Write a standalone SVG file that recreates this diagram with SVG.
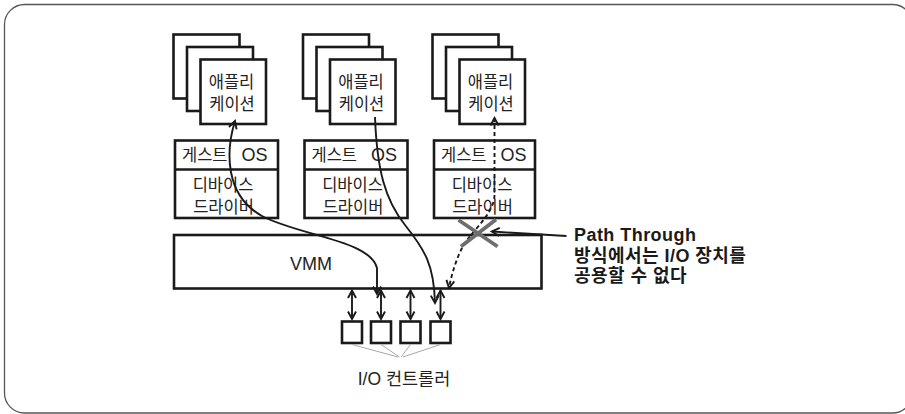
<svg xmlns="http://www.w3.org/2000/svg" width="905" height="414" viewBox="0 0 905 414">
  <defs>
    <style>
      .box { fill: #fff; stroke: #1a1a1a; stroke-width: 2.6; }
      .rule { stroke: #1a1a1a; stroke-width: 2.6; }
      .lbl { font-family: "Liberation Sans", "Noto Sans CJK KR", sans-serif; font-size: 16.5px; fill: #222; text-anchor: middle; }
      .os { font-family: "Liberation Sans", "Noto Sans CJK KR", sans-serif; font-size: 16.5px; fill: #222; }
      .wire { fill: none; stroke: #1a1a1a; stroke-width: 1.9; }
      .dash { stroke-dasharray: 4 3; }
      .tap { fill: none; stroke: #a8a8a8; stroke-width: 1; }
      .note { font-family: "Liberation Sans", "Noto Sans CJK KR", sans-serif; font-size: 18px; font-weight: bold; fill: #1a1a1a; letter-spacing: 0.45px; }
    </style>
    <marker id="head" viewBox="-9 -6 11 12" refX="0" refY="0" markerWidth="11" markerHeight="12" markerUnits="userSpaceOnUse" orient="auto-start-reverse">
      <path d="M-7.5,-4 L0,0 L-7.5,4" fill="none" stroke="#1a1a1a" stroke-width="1.9" stroke-linejoin="miter"/>
    </marker>
    <g id="stack">
      <rect class="box" x="0" y="0" width="66" height="64"/>
      <rect class="box" x="13.5" y="12.5" width="66" height="64"/>
      <rect class="box" x="27" y="25" width="65.5" height="64.5"/>
    </g>
  </defs>

  <!-- outer frame -->
  <rect x="4.5" y="4.5" width="908" height="408.5" rx="20" fill="#fff" stroke="#555" stroke-width="1.3"/>

  <!-- applications -->
  <g id="app1">
    <use href="#stack" x="173.5" y="34.5"/>
    <text class="lbl" x="231.5" y="87.5">애플리</text>
    <text class="lbl" x="232" y="110">케이션</text>
  </g>
  <g id="app2">
    <use href="#stack" x="303" y="34.5"/>
    <text class="lbl" x="361" y="87.5">애플리</text>
    <text class="lbl" x="361.5" y="110">케이션</text>
  </g>
  <g id="app3">
    <use href="#stack" x="432.5" y="34.5"/>
    <text class="lbl" x="490.5" y="87.5">애플리</text>
    <text class="lbl" x="491" y="110">케이션</text>
  </g>

  <!-- guest OS with device driver -->
  <g id="guest1">
    <rect class="box" x="175" y="140.5" width="103" height="77.5"/>
    <line class="rule" x1="175" y1="169.5" x2="278" y2="169.5"/>
    <text class="os" x="182" y="160.5">게스트<tspan dx="14" font-size="18">OS</tspan></text>
    <text class="lbl" x="223" y="190.5">디바이스</text>
    <text class="lbl" x="223.5" y="212.5">드라이버</text>
  </g>
  <g id="guest2">
    <rect class="box" x="304.5" y="140.5" width="103" height="77.5"/>
    <line class="rule" x1="304.5" y1="169.5" x2="407.5" y2="169.5"/>
    <text class="os" x="311.5" y="160.5">게스트<tspan dx="14" font-size="18">OS</tspan></text>
    <text class="lbl" x="352.5" y="190.5">디바이스</text>
    <text class="lbl" x="353" y="212.5">드라이버</text>
  </g>
  <g id="guest3">
    <rect class="box" x="434" y="140.5" width="101" height="77.5"/>
    <line class="rule" x1="434" y1="169.5" x2="535" y2="169.5"/>
    <text class="os" x="441" y="160.5">게스트<tspan dx="14" font-size="18">OS</tspan></text>
    <text class="lbl" x="482" y="190.5">디바이스</text>
    <text class="lbl" x="482.5" y="212.5">드라이버</text>
  </g>

  <!-- hypervisor -->
  <g id="vmm">
    <rect class="box" x="174" y="235" width="367.5" height="53.5"/>
    <text x="311" y="270" font-family="Liberation Sans, sans-serif" font-size="18" fill="#222" text-anchor="middle">VMM</text>
  </g>

  <!-- I/O controllers -->
  <g id="io">
    <rect class="box" x="342" y="321.5" width="20" height="21.5"/>
    <rect class="box" x="371" y="321.5" width="20" height="21.5"/>
    <rect class="box" x="400.5" y="321.5" width="20" height="21.5"/>
    <rect class="box" x="430.5" y="321.5" width="20" height="21.5"/>
    <path class="tap" d="M352,344.5 L398,357 M381,344.5 L399.5,357 M410.5,344.5 L401,357 M440.5,344.5 L403,357"/>
    <text x="404" y="385" font-family="Liberation Sans, Noto Sans CJK KR, sans-serif" font-size="17.5" fill="#222" text-anchor="middle">I/O 컨트롤러</text>
  </g>

  <!-- connectors -->
  <g id="connectors">
    <line class="wire" x1="352" y1="290.5" x2="352" y2="319" marker-start="url(#head)" marker-end="url(#head)"/>
    <line class="wire" x1="381" y1="290.5" x2="381" y2="319" marker-start="url(#head)" marker-end="url(#head)"/>
    <line class="wire" x1="410.5" y1="290.5" x2="410.5" y2="319" marker-start="url(#head)" marker-end="url(#head)"/>
    <line class="wire" x1="440.5" y1="290.5" x2="440.5" y2="319" marker-start="url(#head)" marker-end="url(#head)"/>

    <path class="wire" d="M235,121 C226,150 224,195 262,216 C300,236 370,240 377,268 L377,294" marker-start="url(#head)" marker-end="url(#head)"/>
    <path class="wire" d="M375,117 C377,170 385,200 405,225 C425,250 434,265 435,303" marker-end="url(#head)"/>
    <path class="wire dash" d="M494.5,118 L494.5,195 C494,215 470,232 462,248 C457,258 452,272 449,288" marker-start="url(#head)" marker-end="url(#head)"/>

    <line class="wire" x1="566.5" y1="236" x2="492" y2="231.5" stroke-width="1.6" marker-end="url(#head)"/>
  </g>

  <!-- blocked path mark -->
  <g id="blocked" stroke="#6e6e6e" stroke-width="3.8" stroke-linecap="butt">
    <line x1="458.5" y1="220" x2="497.5" y2="246.5"/>
    <line x1="496" y1="219.5" x2="461" y2="246.5"/>
  </g>

  <!-- annotation -->
  <g id="annotation">
    <text class="note" x="574" y="240.5">Path Through</text>
    <text class="note" x="574" y="261.5">방식에서는 I/O 장치를</text>
    <text class="note" x="574" y="282">공용할 수 없다</text>
  </g>
</svg>
